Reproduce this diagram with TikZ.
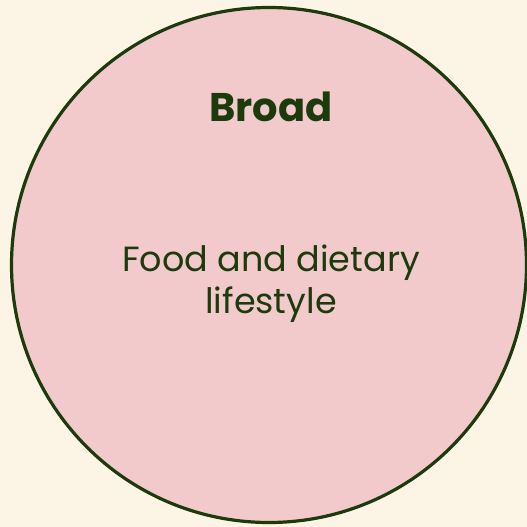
\documentclass[tikz,border=0pt]{standalone}
\usepackage{fontspec}
\setmainfont{Poppins}
\usetikzlibrary{positioning}

\definecolor{cream}{HTML}{FCF5E5}
\definecolor{rosefill}{HTML}{F3CACB}
\definecolor{leafgreen}{HTML}{1C3A0C}

\tikzset{
  heading/.style={text=leafgreen,font=\fontsize{40}{44}\selectfont\bfseries},
  bodytext/.style={text=leafgreen,align=center,font=\fontsize{35}{42}\selectfont}
}

\begin{document}
\begin{tikzpicture}[x=1pt,y=-1pt]

\fill[color=cream] (0,0) rectangle (527,527);
\useasboundingbox (0,0) rectangle (527,527);

% the circle
\draw[fill=rosefill,draw=leafgreen,line width=3.2pt] (269,265) circle[radius=257.5];

\node[heading,anchor=base] (broad) at (271,121) {Broad};
\node[bodytext] (food) at (271,284) {Food and dietary\\lifestyle};

\end{tikzpicture}
\end{document}
